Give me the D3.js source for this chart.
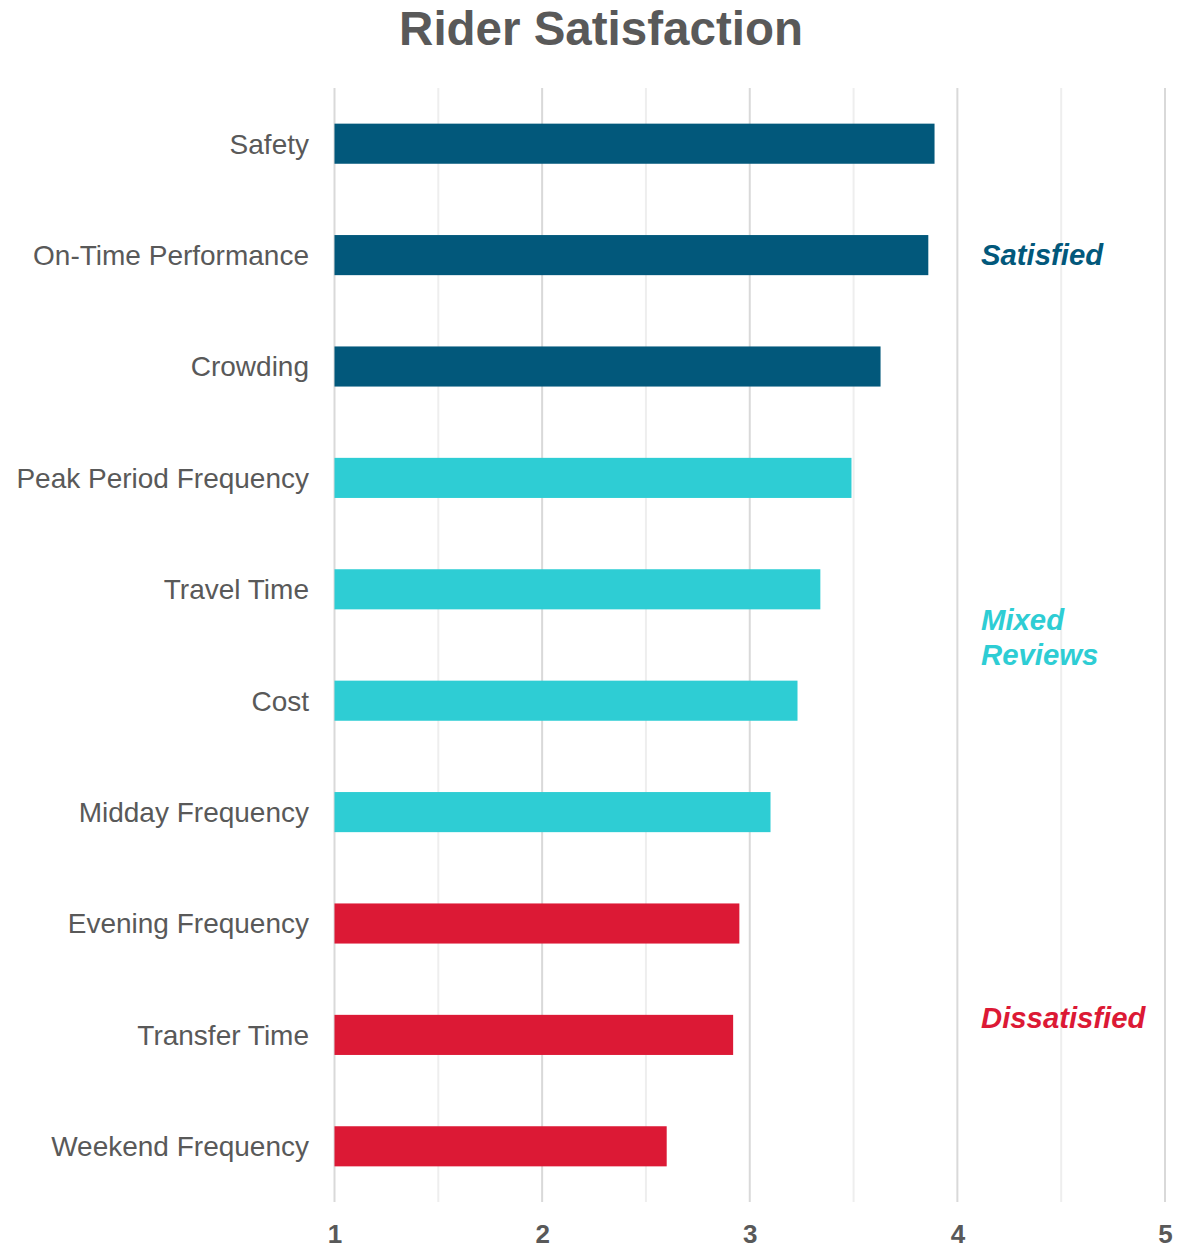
<!DOCTYPE html>
<html>
<head>
<meta charset="utf-8">
<script src="https://cdn.jsdelivr.net/npm/d3@7"></script>
<style>
  body { margin: 0; background: #fff; }
  svg text { font-family: "Liberation Sans", Arial, sans-serif; }
</style>
</head>
<body>
<div id="chart"></div>
<script>
// chart data
var categories = ['Safety', 'On-Time Performance', 'Crowding', 'Peak Period Frequency',
  'Travel Time', 'Cost', 'Midday Frequency', 'Evening Frequency', 'Transfer Time', 'Weekend Frequency'];
var scores = [3.89, 3.86, 3.63, 3.49, 3.34, 3.23, 3.10, 2.95, 2.92, 2.60];
var groupOf = ['sat', 'sat', 'sat', 'mix', 'mix', 'mix', 'mix', 'dis', 'dis', 'dis'];
var groupKeys = ['sat', 'mix', 'dis'];
var groupLabels = [['Satisfied'], ['Mixed', 'Reviews'], ['Dissatisfied']];
var tickValues = [1, 2, 3, 4, 5];
var title = 'Rider Satisfaction';

var colors = { sat: '#02587b', mix: '#2ecdd4', dis: '#dc1935' };

var W = 1183, H = 1249;
var svg = d3.select('#chart').append('svg')
  .attr('width', W)
  .attr('height', H);

var x = d3.scaleLinear().domain([1, 5]).range([334.5, 1165]);
var y = d3.scaleBand().domain(categories).range([88, 1202])
  .paddingInner(0.64).paddingOuter(0.32);

// title
svg.append('text')
  .attr('x', 601).attr('y', 45)
  .attr('text-anchor', 'middle')
  .style('font-size', '47.5px').style('font-weight', 'bold')
  .attr('fill', '#595959')
  .text(title);

// gridlines, half steps lighter
var grid = d3.range(1, 5.01, 0.5);
svg.selectAll('line.grid').data(grid)
  .enter().append('line')
  .attr('class', 'grid')
  .attr('x1', function (d) { return x(d); })
  .attr('x2', function (d) { return x(d); })
  .attr('y1', 88).attr('y2', 1202)
  .attr('stroke', function (d) { return d % 1 === 0 ? '#d9d9d9' : '#eeeeee'; })
  .attr('stroke-width', 2);

// bars
svg.selectAll('rect.bar').data(categories)
  .enter().append('rect')
  .attr('class', 'bar')
  .attr('x', x(1))
  .attr('y', function (d) { return y(d); })
  .attr('width', function (d, i) { return x(scores[i]) - x(1); })
  .attr('height', y.bandwidth())
  .attr('fill', function (d, i) { return colors[groupOf[i]]; });

// category labels
svg.selectAll('text.cat').data(categories)
  .enter().append('text')
  .attr('class', 'cat')
  .attr('x', 309)
  .attr('y', function (d) { return y(d) + y.bandwidth() / 2; })
  .attr('dy', '0.35em')
  .attr('text-anchor', 'end')
  .style('font-size', '28px')
  .attr('fill', '#595959')
  .text(function (d) { return d; });

// x axis
var xAxis = d3.axisBottom(x).tickValues(tickValues).tickSize(0).tickFormat(d3.format('d'));
var ax = svg.append('g').attr('transform', 'translate(0,1243)').call(xAxis);
ax.select('.domain').remove();
ax.selectAll('text')
  .attr('y', 0).attr('dy', '0')
  .style('font-size', '26px').style('font-weight', 'bold')
  .style('font-family', '"Liberation Sans", Arial, sans-serif')
  .attr('fill', '#595959');

// group annotations on the right
var offsets = { sat: 0, mix: -8, dis: -17 };
groupKeys.forEach(function (g, gi) {
  var rows = categories.filter(function (c, i) { return groupOf[i] === g; });
  var top = y(rows[0]), bottom = y(rows[rows.length - 1]) + y.bandwidth();
  var cy = (top + bottom) / 2 + offsets[g];
  var lines = groupLabels[gi];
  var lh = 35;
  var t = svg.append('text')
    .attr('x', 981)
    .style('font-size', '29.3px').style('font-weight', 'bold').style('font-style', 'italic')
    .attr('fill', colors[g]);
  lines.forEach(function (s, li) {
    t.append('tspan')
      .attr('x', 981)
      .attr('y', cy + (li - (lines.length - 1) / 2) * lh)
      .attr('dy', '0.35em')
      .text(s);
  });
});
</script>
</body>
</html>
